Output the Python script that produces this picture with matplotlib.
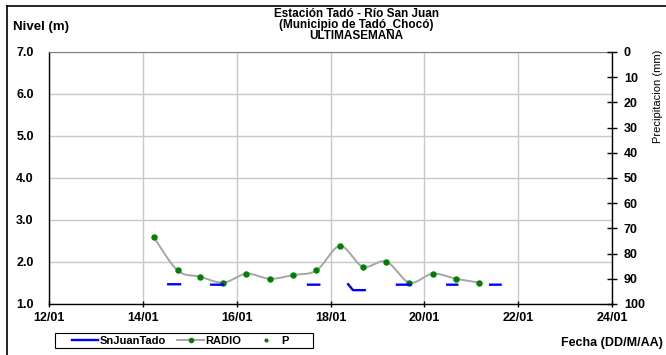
"""
Nivel del rio San Juan en Tado, ultima semana (sensor + lecturas de radio).
Output: out.png
"""

import numpy as np
import pandas as pd
import matplotlib
matplotlib.use("Agg")
import matplotlib.pyplot as plt
import matplotlib.dates as mdates
from matplotlib.lines import Line2D
from matplotlib.patches import Rectangle

plt.rcParams["font.family"] = ["Liberation Sans", "DejaVu Sans"]
plt.rcParams["font.weight"] = "bold"
plt.rcParams["font.size"] = 9


# ---------------------------------------------------------------------
# Data
# ---------------------------------------------------------------------

# RADIO: manual readings twice a day (m)
radio_time = [
    "2013-01-14 05:30", "2013-01-14 17:45", "2013-01-15 05:15", "2013-01-15 17:15",
    "2013-01-16 05:00", "2013-01-16 17:00", "2013-01-17 04:50", "2013-01-17 16:50",
    "2013-01-18 04:50", "2013-01-18 16:30", "2013-01-19 04:30", "2013-01-19 16:20",
    "2013-01-20 04:20", "2013-01-20 16:20", "2013-01-21 04:00",
]
radio_level = [2.60, 1.80, 1.65, 1.51, 1.72, 1.60, 1.69, 1.80,
               2.38, 1.89, 2.01, 1.51, 1.72, 1.60, 1.51]

# SnJuanTado: automatic sensor (m); None = no data
sensor_time = [
    "2013-01-14 13:00", "2013-01-14 19:00", "2013-01-15 03:00",
    "2013-01-15 11:00", "2013-01-15 17:00", "2013-01-16 03:00",
    "2013-01-17 12:30", "2013-01-17 18:15", "2013-01-18 03:00",
    "2013-01-18 09:00", "2013-01-18 11:30", "2013-01-18 17:30", "2013-01-19 03:00",
    "2013-01-19 10:00", "2013-01-19 16:50", "2013-01-20 03:00",
    "2013-01-20 11:45", "2013-01-20 16:50", "2013-01-21 03:00",
    "2013-01-21 09:40", "2013-01-21 15:00",
]
sensor_level = [
    1.47, 1.47, None,
    1.46, 1.46, None,
    1.46, 1.46, None,
    1.47, 1.33, 1.33, None,
    1.46, 1.46, None,
    1.46, 1.46, None,
    1.46, 1.46,
]

x_ticks = ["2013-01-12", "2013-01-14", "2013-01-16", "2013-01-18",
           "2013-01-20", "2013-01-22", "2013-01-24"]
level_ticks = [1, 2, 3, 4, 5, 6, 7]
rain_ticks = [0, 10, 20, 30, 40, 50, 60, 70, 80, 90, 100]

title_lines = ["Estación Tadó - Río San Juan", "(Municipio de Tadó_Chocó)", "ULTIMASEMANA"]


# ---------------------------------------------------------------------
# Helpers
# ---------------------------------------------------------------------

def smooth_curve(x, y, steps=20):
    """Excel-like smoothed line (Catmull-Rom as cubic Bezier)."""
    x = np.asarray(x, float)
    y = np.asarray(y, float)
    n = len(x)
    xs, ys = [], []
    for i in range(n - 1):
        i0 = max(i - 1, 0)
        i3 = min(i + 2, n - 1)
        c1x = x[i] + (x[i + 1] - x[i0]) / 6
        c1y = y[i] + (y[i + 1] - y[i0]) / 6
        c2x = x[i + 1] - (x[i3] - x[i]) / 6
        c2y = y[i + 1] - (y[i3] - y[i]) / 6
        t = np.linspace(0, 1, steps, endpoint=(i == n - 2))
        a, b, c, d = (1 - t) ** 3, 3 * (1 - t) ** 2 * t, 3 * (1 - t) * t ** 2, t ** 3
        xs.append(a * x[i] + b * c1x + c * c2x + d * x[i + 1])
        ys.append(a * y[i] + b * c1y + c * c2y + d * y[i + 1])
    return np.concatenate(xs), np.concatenate(ys)


def px(x, y):
    """Pixel position -> figure fraction."""
    return x / W, 1 - y / H


# ---------------------------------------------------------------------
# Figure
# ---------------------------------------------------------------------

W, H = 666, 355
fig = plt.figure(figsize=(W / 100, H / 100), dpi=100)
x0, y0 = px(49, 304)
x1, y1 = px(612, 52)
ax = fig.add_axes([x0, y0, x1 - x0, y1 - y0])

rt = mdates.date2num(pd.to_datetime(radio_time))
sx, sy = smooth_curve(rt, radio_level)
ax.plot(sx, sy, color="#a6a6a6", lw=1.4, zorder=3)
ax.plot(rt, radio_level, ls="none", marker="o", ms=3.6, color="#008000", zorder=4)

st = mdates.date2num(pd.to_datetime(sensor_time))
sv = np.array([np.nan if v is None else v for v in sensor_level], float)
ax.plot(st, sv, color="#0000ff", lw=1.7, zorder=5)

ax.set_xlim(mdates.date2num(pd.to_datetime(x_ticks[0])),
            mdates.date2num(pd.to_datetime(x_ticks[-1])))
ax.set_xticks(mdates.date2num(pd.to_datetime(x_ticks)))
ax.xaxis.set_major_formatter(mdates.DateFormatter("%d/%m"))
ax.set_ylim(level_ticks[0], level_ticks[-1])
ax.set_yticks(level_ticks)
ax.set_yticklabels([f"{v:.1f}" for v in level_ticks])

ax.grid(True, color="#c8c8c8", lw=1)
ax.set_axisbelow(True)
for side in ("left", "bottom"):
    ax.spines[side].set_color("black")
    ax.spines[side].set_linewidth(1)
ax.spines["top"].set_color("#808080")
ax.spines["right"].set_visible(False)
ax.tick_params(axis="y", length=0, pad=11)
ax.tick_params(axis="x", direction="inout", length=5, width=1, pad=3)

ax2 = ax.twinx()
ax2.set_ylim(rain_ticks[-1], rain_ticks[0])
ax2.set_yticks(rain_ticks)
ax2.tick_params(axis="y", direction="inout", length=7, width=1, pad=5)
ax2.spines["right"].set_color("black")
ax2.spines["right"].set_linewidth(1)
for side in ("left", "top", "bottom"):
    ax2.spines[side].set_visible(False)

# titles and labels
fig.text(*px(356, 25), "\n".join(title_lines), ha="center", va="center",
         fontsize=8.5, linespacing=0.86)
fig.text(*px(13, 27), "Nivel (m)", ha="left", va="center", fontsize=9.5)
fig.text(*px(663, 343), "Fecha (DD/M/AA)", ha="right", va="center")
fig.text(*px(658, 96), "Precipitacion (mm)", rotation=90, ha="center", va="center",
         fontweight="normal", fontsize=8)

# legend (frame drawn separately to match the wide box)
handles = [
    Line2D([], [], color="#0000ff", lw=1.7),
    Line2D([], [], color="#a6a6a6", lw=1.4, marker="o", ms=3, mfc="#008000", mec="#008000"),
    Line2D([], [], ls="none", marker="o", ms=2, color="#008000"),
]
fig.legend(handles, ["SnJuanTado", "RADIO", "P"], ncol=3, loc="center",
           bbox_to_anchor=px(180, 340.5), fontsize=8, frameon=False,
           handlelength=2.4, handletextpad=0.15, columnspacing=1.0, borderpad=0.2)
bx0, by0 = px(55, 348)
bx1, by1 = px(313, 333)
fig.add_artist(Rectangle((bx0, by0), bx1 - bx0, by1 - by0, transform=fig.transFigure,
                         fill=False, edgecolor="black", lw=0.8))

# outer chart border (left and top edges visible)
fig.add_artist(Line2D([7 / W, 7 / W], [0, 1 - 6 / H], color="black", lw=1.2))
fig.add_artist(Line2D([7 / W, 1], [1 - 6 / H, 1 - 6 / H], color="black", lw=1.2))

fig.savefig("out.png", dpi=100)
